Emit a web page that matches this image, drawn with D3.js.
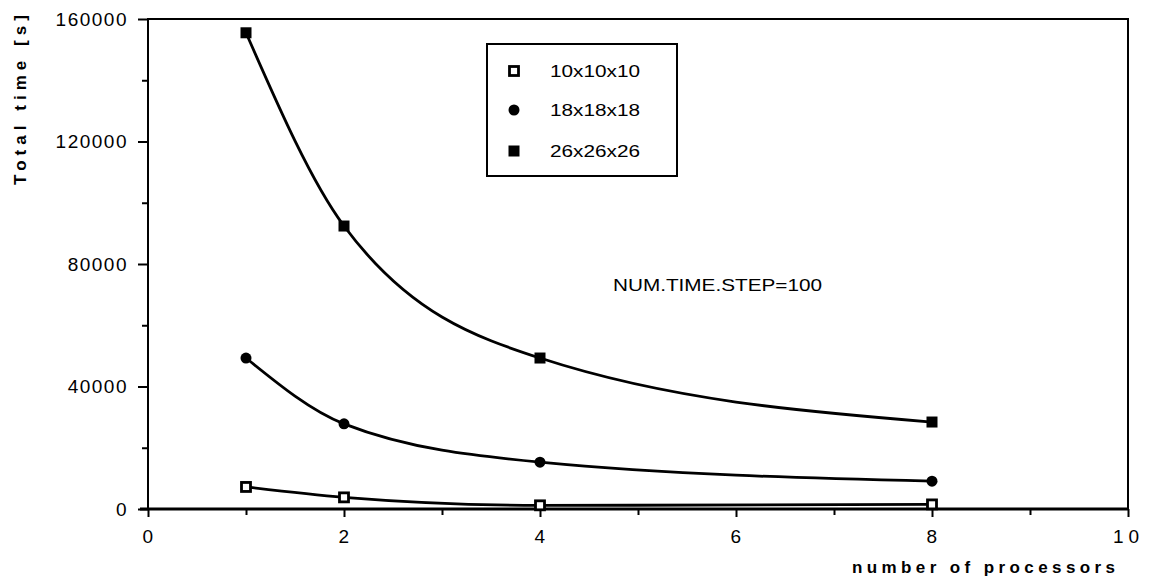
<!DOCTYPE html>
<html><head><meta charset="utf-8">
<script src="https://cdn.jsdelivr.net/npm/d3@7"></script>
<style>body{margin:0;background:#fff}svg{display:block}text{font-family:"Liberation Sans",Arial,sans-serif;fill:#000}</style>
</head><body><svg id="c" width="1152" height="586"></svg>
<script>
const processors = [1, 2, 4, 8];
const series10 = [7200, 3800, 1200, 1500];
const series18 = [49300, 27800, 15300, 9100];
const series26 = [155500, 92400, 49300, 28400];
const seriesNames = ["10x10x10", "18x18x18", "26x26x26"];
const markerTypes = ["openSquare", "circle", "square"];
const xTicks = [0, 2, 4, 6, 8, 10];
const yTicks = [0, 40000, 80000, 120000, 160000];
const xMinorTicks = [1, 3, 5, 7, 9];
const yMinorTicks = [20000, 60000, 100000, 140000];

const svg = d3.select("#c");
const x = d3.scaleLinear().domain([0, 10]).range([148, 1128]);
const y = d3.scaleLinear().domain([0, 160000]).range([509, 19]);

svg.append("rect").attr("x", 148).attr("y", 19).attr("width", 980).attr("height", 490)
  .attr("fill", "none").attr("stroke", "#000").attr("stroke-width", 2);
svg.append("line").attr("x1", 140).attr("x2", 1128).attr("y1", 509).attr("y2", 509).attr("stroke", "#000").attr("stroke-width", 3);

const xAxis = svg.append("g").attr("transform", "translate(0,509)")
  .call(d3.axisBottom(x).tickValues(xTicks).tickSize(8).tickPadding(13).tickFormat(d3.format("d")));
svg.append("g").attr("transform", "translate(0,509)")
  .call(d3.axisBottom(x).tickValues(xMinorTicks).tickSize(6).tickFormat(""));
const yAxis = svg.append("g").attr("transform", "translate(148,0)")
  .call(d3.axisLeft(y).tickValues(yTicks).tickSize(10).tickPadding(10).tickFormat(d3.format("d")));
svg.append("g").attr("transform", "translate(148,0)")
  .call(d3.axisLeft(y).tickValues(yMinorTicks).tickSize(6).tickFormat(""));
svg.selectAll(".domain").remove();
svg.selectAll(".tick line").attr("stroke", "#000").attr("stroke-width", 2);
svg.selectAll(".tick text").attr("font-size", 19).attr("letter-spacing", 1.5)
  .attr("font-family", "Liberation Sans, Arial, sans-serif").attr("fill", "#000");
xAxis.selectAll(".tick text").filter(d => d === 10).attr("letter-spacing", 5);

const all = [series10, series18, series26];
const line = d3.line().x((d, i) => x(processors[i])).y(d => y(d)).curve(d3.curveMonotoneX);
all.forEach(s => {
  svg.append("path").attr("d", line(s)).attr("fill", "none").attr("stroke", "#000").attr("stroke-width", 2.8);
});

function marker(g, type, cx, cy) {
  if (type === "circle") {
    g.append("circle").attr("cx", cx).attr("cy", cy).attr("r", 5.5).attr("fill", "#000");
  } else if (type === "square") {
    g.append("rect").attr("x", cx - 5.5).attr("y", cy - 5.5).attr("width", 11).attr("height", 11).attr("fill", "#000");
  } else {
    g.append("rect").attr("x", cx - 4.5).attr("y", cy - 4.5).attr("width", 9).attr("height", 9)
      .attr("fill", "#fff").attr("stroke", "#000").attr("stroke-width", 2.8);
  }
}
all.forEach((s, k) => {
  s.forEach((v, i) => marker(svg, markerTypes[k], x(processors[i]), y(v)));
});

svg.append("rect").attr("x", 487).attr("y", 44).attr("width", 190).attr("height", 132)
  .attr("fill", "#fff").attr("stroke", "#000").attr("stroke-width", 2);
const rowsY = [71, 110, 151];
seriesNames.forEach((n, k) => {
  marker(svg, markerTypes[k], 514, rowsY[k]);
  svg.append("text").attr("x", 550).attr("y", rowsY[k]).attr("dy", "0.36em")
    .attr("font-size", 17).attr("textLength", 90).attr("lengthAdjust", "spacingAndGlyphs").text(n);
});

svg.append("text").attr("x", 613).attr("y", 285).attr("dy", "0.36em").attr("font-size", 17)
  .attr("textLength", 209).attr("lengthAdjust", "spacingAndGlyphs").text("NUM.TIME.STEP=100");

svg.append("text").attr("transform", "translate(26,100) rotate(-90)").attr("text-anchor", "middle")
  .attr("font-size", 17).attr("font-weight", "bold").attr("textLength", 170).attr("lengthAdjust", "spacing").text("Total  time  [s]");
svg.append("text").attr("x", 852).attr("y", 567).attr("dy", "0.36em")
  .attr("font-size", 17).attr("font-weight", "bold").attr("textLength", 263).attr("lengthAdjust", "spacing").text("number  of  processors");
</script></body></html>
